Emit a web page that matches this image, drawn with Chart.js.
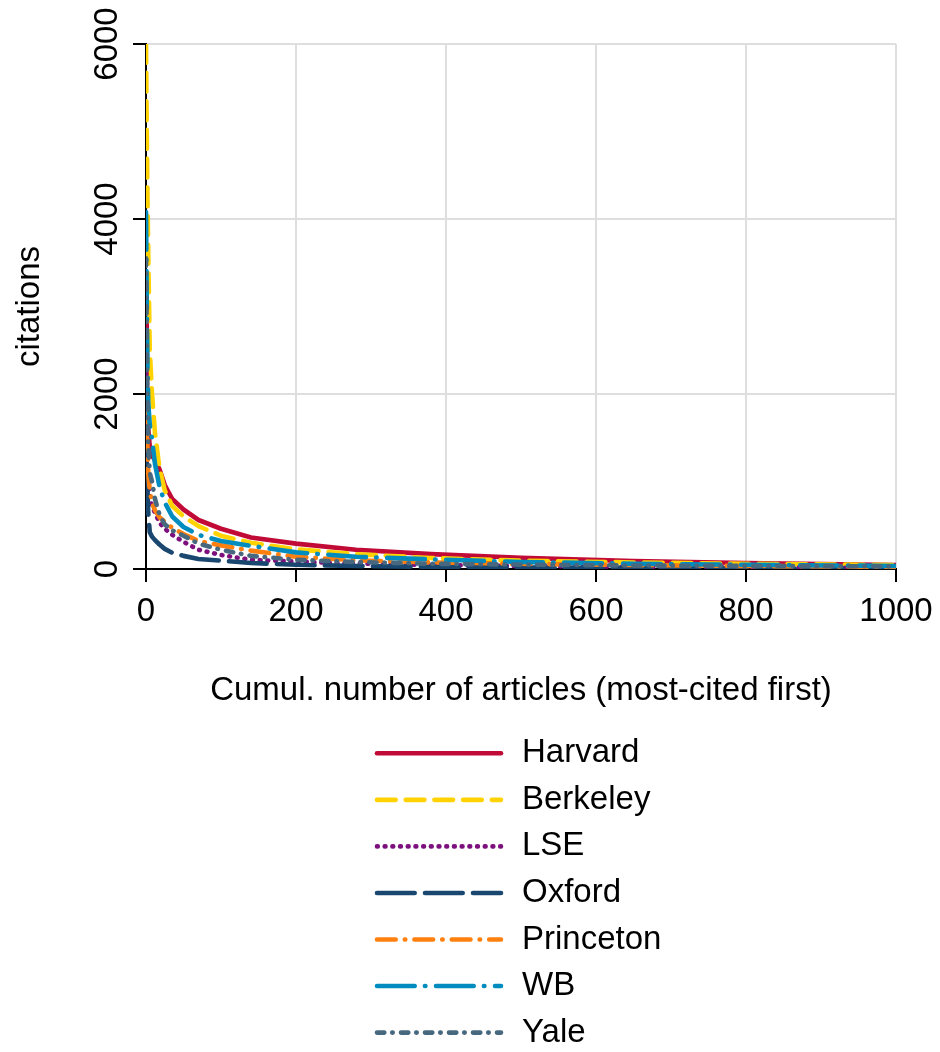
<!DOCTYPE html>
<html>
<head>
<meta charset="utf-8">
<script src="https://cdn.jsdelivr.net/npm/chart.js@4.4.0/dist/chart.umd.min.js"></script>
<style>
html,body{margin:0;padding:0;background:#ffffff;}
#wrap{width:940px;height:1052px;position:relative;}
</style>
</head>
<body>
<div id="wrap"><canvas id="c" width="940" height="1052"></canvas></div>
<script>
// Cumulative article rank (most-cited first)
const ranks = [0,1,2,3,5,8,12,18,25,35,50,70,100,140,200,280,380,500,650,800,1000];
const seriesNames = ['Harvard','Berkeley','LSE','Oxford','Princeton','WB','Yale'];
// citations per series, read at the ranks above
const harvard   = [2800,2200,1750,1600,1400,1300,1240,1140,960,800,680,560,460,360,290,220,170,128,90,68,45];
const berkeley  = [6000,5000,4200,3600,2500,2000,1550,1150,900,720,600,490,380,300,225,170,125,95,75,60,45];
const lse       = [2240,1600,1200,1000,830,720,640,530,460,390,310,220,160,105,85,62,45,35,25,18,12];
const oxford    = [1600,1200,900,640,420,370,330,280,230,185,150,115,95,69,48,34,25,18,12,8,2];
const princeton = [2000,1700,1350,1100,900,760,670,590,540,470,400,320,270,210,140,100,75,60,45,35,25];
const wb        = [4080,3000,2300,1900,1650,1480,1200,940,760,600,480,390,320,265,190,140,110,80,60,48,35];
const yale      = [3550,2600,1900,1400,1100,1000,800,620,510,440,380,290,220,150,105,80,60,50,40,35,30];
const xTicks = [0,200,400,600,800,1000];
const yTicks = [0,2000,4000,6000];

const seriesValues = [harvard, berkeley, lse, oxford, princeton, wb, yale];
const colors = ['#C10A36','#FFD200','#7E107E','#1A476F','#FF800E','#008CBF','#48687F'];
const dashes = [
  [],
  [18.7,10],
  [0.8,6.9],
  [37.7,10.3],
  [18.7,9.1,0.5,9.1],
  [37.7,10.2,0.5,10.6],
  [7.3,7.9,0.5,8.3]
];

const FONT = '"Liberation Sans", Arial, Helvetica, sans-serif';
const LW = 4.6;

const datasets = seriesNames.map((name, i) => ({
  label: name,
  data: ranks.map((r, j) => ({x: r, y: seriesValues[i][j]})),
  borderColor: colors[i],
  backgroundColor: colors[i],
  borderWidth: LW,
  borderDash: dashes[i],
  borderCapStyle: 'round',
  borderJoinStyle: 'round',
  pointRadius: 0,
  tension: 0,
  fill: false,
  order: seriesNames.length - i
}));

const legendPlugin = {
  id: 'columnLegend',
  afterDraw(chart) {
    const ctx = chart.ctx;
    const top = 753.3, step = 46.55;
    chart.data.datasets.forEach((ds, i) => {
      const y = top + i * step;
      ctx.save();
      ctx.strokeStyle = ds.borderColor;
      ctx.lineWidth = LW;
      ctx.lineCap = 'round';
      ctx.setLineDash(ds.borderDash || []);
      ctx.beginPath();
      ctx.moveTo(377, y);
      ctx.lineTo(501, y);
      ctx.stroke();
      ctx.setLineDash([]);
      ctx.fillStyle = '#000';
      ctx.font = '33px ' + FONT;
      ctx.textBaseline = 'middle';
      ctx.textAlign = 'left';
      ctx.fillText(ds.label, 522, y);
      ctx.restore();
    });
  }
};

new Chart(document.getElementById('c'), {
  type: 'line',
  data: { datasets },
  plugins: [legendPlugin],
  options: {
    responsive: false,
    devicePixelRatio: 1,
    animation: false,
    layout: { padding: { left: 0, right: 44, top: 44, bottom: 341 } },
    plugins: { legend: { display: false }, tooltip: { enabled: false } },
    scales: {
      x: {
        type: 'linear',
        min: 0, max: 1000,
        afterBuildTicks(axis) { axis.ticks = xTicks.map(v => ({value: v})); },
        afterFit(axis) { axis.height = 142; axis.paddingRight = 20; axis.paddingLeft = 0; },
        ticks: {
          color: '#000', padding: 10, maxRotation: 0,
          font: { family: FONT, size: 33 },
          callback: v => String(v)
        },
        grid: { color: '#dedede', lineWidth: 2, tickColor: '#000', tickWidth: 2, tickLength: 13 },
        border: { color: '#000', width: 2 },
        title: {
          display: true, text: 'Cumul. number of articles (most-cited first)',
          color: '#000', font: { family: FONT, size: 33 },
          padding: { top: 0, bottom: 0 }
        }
      },
      y: {
        type: 'linear',
        min: 0, max: 6000,
        afterBuildTicks(axis) { axis.ticks = yTicks.map(v => ({value: v})); },
        afterFit(axis) { axis.width = 146; axis.paddingTop = 20; axis.paddingBottom = 0; },
        ticks: {
          color: '#000', padding: -12, minRotation: 90, maxRotation: 90,
          crossAlign: 'center',
          font: { family: FONT, size: 33 },
          callback: v => String(v)
        },
        grid: { color: '#dedede', lineWidth: 2, tickColor: '#000', tickWidth: 2, tickLength: 13 },
        border: { color: '#000', width: 2 },
        title: {
          display: true, text: 'citations',
          color: '#000', font: { family: FONT, size: 33 },
          padding: { top: 10, bottom: 0 }
        }
      }
    }
  }
});
</script>
</body>
</html>
